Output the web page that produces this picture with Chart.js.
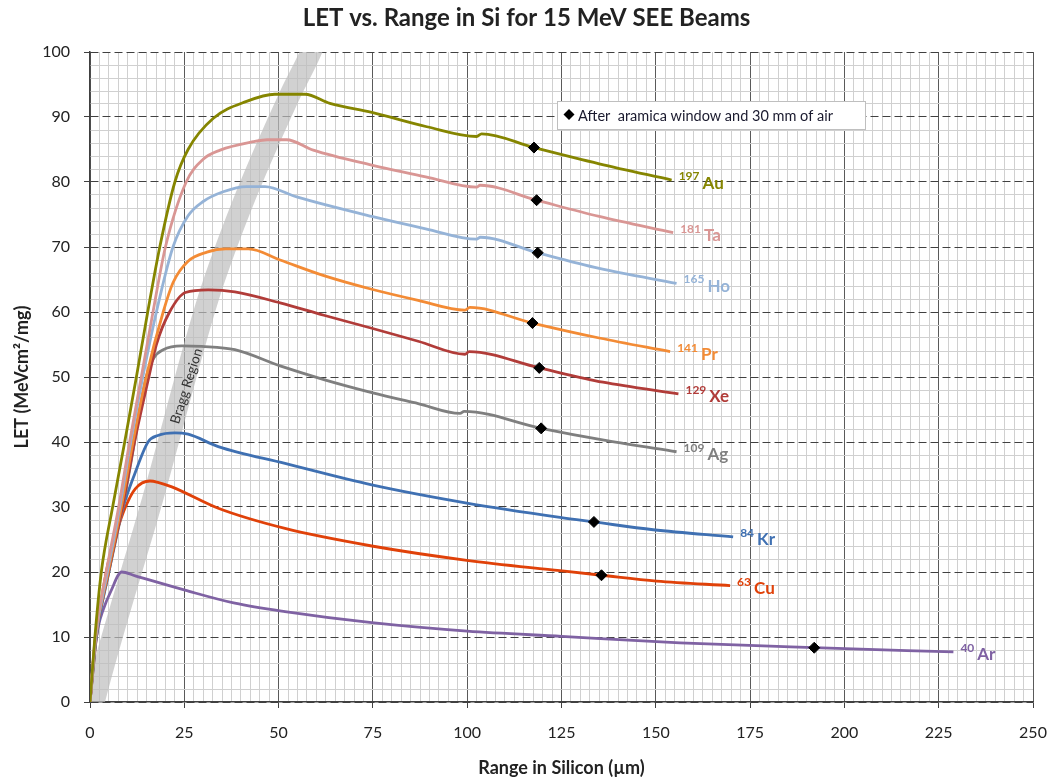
<!DOCTYPE html>
<html>
<head>
<meta charset="utf-8">
<title>LET vs. Range in Si for 15 MeV SEE Beams</title>
<script src="https://cdn.jsdelivr.net/npm/chart.js@4.4.1/dist/chart.umd.min.js"></script>
<style>
    html, body { margin: 0; padding: 0; background: #fff; }
    #wrap { width: 1052px; height: 783px; }
</style>
</head>
<body>
<div id="wrap"><canvas id="chart" width="1052" height="783"></canvas></div>
<script>
'use strict';

// ions, in the order of the curves from top to bottom
var ions = ['Au', 'Ta', 'Ho', 'Pr', 'Xe', 'Ag', 'Kr', 'Cu', 'Ar'];
var masses = ['197', '181', '165', '141', '129', '109', '84', '63', '40'];

// [range in Si (um), LET (MeV cm2/mg)]
var au = [[0, 0], [1.3, 10], [3, 20], [6, 30], [9.2, 40], [12.3, 50], [15.3, 60], [18.5, 70], [22.5, 80],
    [26, 85], [32.7, 89.8], [41.5, 92.4], [49, 93.5], [57, 93.5], [63.6, 92.1], [74.7, 90.7], [89.3, 88.5],
    [102.5, 87.0], [103.8, 87.4], [117.7, 85.3], [135, 82.8], [154.2, 80.3]];
var ta = [[0, 0], [1.4, 10], [4.3, 20], [7.6, 30], [10.5, 40], [13.6, 50], [16.7, 60], [20, 70], [25.5, 80],
    [30, 83.5], [34.5, 84.9], [43.3, 86.2], [47, 86.5], [52.1, 86.5], [59.2, 84.9], [74.7, 82.6], [89, 80.8],
    [102.5, 79.2], [103.4, 79.5], [118.4, 77.2], [135, 74.7], [154.6, 72.2]];
var ho = [[0, 0], [1.5, 10], [4.6, 20], [7.9, 30], [10.8, 40], [14, 50], [17.6, 60], [22, 70], [26, 74.8],
    [30, 77], [35.3, 78.5], [41.5, 79.3], [46.4, 79.3], [54.8, 77.7], [74.7, 74.7], [89, 72.8], [102.5, 71.2],
    [103.5, 71.5], [118.7, 69.1], [135, 66.7], [155.5, 64.4]];
var pr = [[0, 0], [1.5, 10], [4.8, 20], [8.3, 30], [11.4, 40], [14.9, 50], [19.4, 60], [22, 64.5], [26, 67.8],
    [31, 69.2], [36, 69.7], [42, 69.7], [50.4, 68.0], [62, 65.6], [74.7, 63.5], [87, 61.8], [99.4, 60.3],
    [100.7, 60.7], [117.3, 58.3], [135, 56], [153.8, 53.9]];
var xe = [[0, 0], [1.5, 10], [4.9, 20], [8.6, 30], [11.8, 40], [15.6, 50], [17.6, 55], [21.1, 60], [25.3, 63],
    [31.4, 63.4], [38.4, 63.1], [50.4, 61.4], [62, 59.5], [74.7, 57.5], [87, 55.5], [99.4, 53.5], [100.5, 53.9],
    [119.1, 51.4], [136, 49.2], [156, 47.4]];
var ag = [[0, 0], [1.6, 10], [5, 20], [8.7, 30], [11.8, 40], [13.2, 45], [14.9, 50], [17, 53], [19.4, 54.2],
    [24.3, 54.8], [29.6, 54.7], [38.4, 54.2], [50.4, 51.7], [62, 49.6], [74.7, 47.6], [87, 45.9], [98.1, 44.4],
    [99.2, 44.7], [119.6, 42.1], [137, 40.2], [155.5, 38.5]];
var kr = [[0, 0], [1.7, 10], [5, 20], [7.5, 27], [8.8, 30], [11.8, 35], [15.4, 40], [18, 41], [22.5, 41.4],
    [26, 41.2], [34, 39.3], [51.7, 36.7], [74.7, 33.4], [99.9, 30.6], [124.6, 28.4], [133.6, 27.7],
    [149.3, 26.5], [170.5, 25.4]];
var cu = [[0, 0], [1.7, 10], [4.3, 20], [7, 26], [9.4, 30], [12, 32.8], [15.9, 34], [18, 33.8], [21.7, 33.1],
    [34, 29.8], [51.7, 26.7], [74.7, 24], [99.9, 21.8], [124.6, 20.2], [135.6, 19.5], [150.2, 18.6],
    [169.7, 17.9]];
var ar = [[0, 0], [1, 7], [2.2, 11.6], [3.5, 14.2], [5.5, 17], [8.4, 20], [12, 19.4], [25.2, 17.2],
    [38.4, 15.2], [51.7, 13.9], [74.7, 12.2], [100, 10.9], [125, 10.1], [156.4, 9.1], [192, 8.35], [228.9, 7.7]];

// black diamonds: after aramica window and 30 mm of air
var afterWindow = [[117.7, 85.3], [118.4, 77.2], [118.7, 69.1], [117.3, 58.3], [119.1, 51.4], [119.6, 42.1],
    [133.6, 27.7], [135.6, 19.5], [192, 8.35]];

// centre line of the grey "Bragg Region" band
var braggRegion = [[0.3, -2], [1.1, 0], [16.6, 31.2], [31.3, 62], [40, 76], [53, 93.4], [58.6, 100], [61, 103.5]];

var series = [au, ta, ho, pr, xe, ag, kr, cu, ar];
var colors = ['#858500', '#d99694', '#95b3d7', '#f38b35', '#b13c39', '#7f7f7f', '#3f70b2', '#e04109', '#7f62a3'];

var FONT = 'Lato, Carlito, Calibri, "Noto Sans", sans-serif';
Chart.defaults.font.family = FONT;
Chart.defaults.color = '#222';

function isMultiple(v, step) {
    var r = Math.abs(v / step - Math.round(v / step));
    return r < 1e-6;
}

var curveLabels = {
    id: 'curveLabels',
    afterDatasetsDraw: function (chart) {
        var ctx = chart.ctx;
        var xs = chart.scales.x, ys = chart.scales.y;
        ctx.save();
        ctx.textBaseline = 'middle';
        ctx.textAlign = 'left';

        // ion names at the end of each curve
        ions.forEach(function (ion, i) {
            var pts = chart.getDatasetMeta(i).data;
            var last = pts[pts.length - 1];
            var x = last.x + 7;
            ctx.fillStyle = colors[i];
            ctx.font = 'bold 12px ' + FONT;
            ctx.fillText(masses[i], x, last.y - 4);
            x += ctx.measureText(masses[i]).width + 3;
            ctx.font = 'bold 17px ' + FONT;
            ctx.fillText(ion, x, last.y + 3);
        });

        // band label
        ctx.save();
        ctx.translate(xs.getPixelForValue(25.6), ys.getPixelForValue(48.6));
        ctx.rotate(-72.3 * Math.PI / 180);
        ctx.textAlign = 'center';
        ctx.fillStyle = '#333';
        ctx.font = '13.5px ' + FONT;
        ctx.fillText('Bragg Region', 0, 0);
        ctx.restore();

        // legend box for the diamonds
        var bx = chart.chartArea.left + 467, by = chart.chartArea.top + 49;
        ctx.fillStyle = '#fff';
        ctx.strokeStyle = '#bfbfbf';
        ctx.lineWidth = 1;
        ctx.fillRect(bx, by, 308, 28);
        ctx.strokeRect(bx + 0.5, by + 0.5, 308, 28);
        ctx.fillStyle = '#000';
        ctx.beginPath();
        ctx.moveTo(bx + 12, by + 8);
        ctx.lineTo(bx + 17.5, by + 13.5);
        ctx.lineTo(bx + 12, by + 19);
        ctx.lineTo(bx + 6.5, by + 13.5);
        ctx.closePath();
        ctx.fill();
        ctx.fillStyle = '#1a1a2e';
        ctx.font = '14.5px ' + FONT;
        ctx.fillText('After  aramica window and 30 mm of air', bx + 21, by + 15);
        ctx.restore();
    }
};

var datasets = series.map(function (pts, i) {
    return {
        label: ions[i],
        data: pts,
        showLine: true,
        borderColor: colors[i],
        borderWidth: 2.8,
        pointRadius: 0,
        cubicInterpolationMode: 'monotone',
        order: 2
    };
});

datasets.push({
    label: 'After aramica window and 30 mm of air',
    data: afterWindow,
    showLine: false,
    pointStyle: 'rectRot',
    pointRadius: 5.5,
    backgroundColor: '#000',
    borderColor: '#000',
    order: 1
});

datasets.push({
    label: 'Bragg Region',
    data: braggRegion,
    showLine: true,
    borderColor: 'rgba(190,190,190,0.7)',
    borderWidth: 21,
    pointRadius: 0,
    cubicInterpolationMode: 'monotone',
    clip: 0,
    order: 10
});

new Chart(document.getElementById('chart'), {
    type: 'scatter',
    data: { datasets: datasets },
    plugins: [curveLabels],
    options: {
        responsive: false,
        animation: false,
        layout: { padding: { left: 20, right: 19 } },
        plugins: {
            legend: { display: false },
            tooltip: { enabled: false },
            title: {
                display: true,
                text: 'LET vs. Range in Si for 15 MeV SEE Beams',
                font: { size: 24, weight: 'bold' },
                color: '#222',
                padding: { top: 4, bottom: 19.2 }
            }
        },
        scales: {
            x: {
                type: 'linear',
                min: 0,
                max: 250,
                ticks: { stepSize: 25, autoSkip: false, maxRotation: 0, padding: 15, font: { size: 16 }, color: '#222' },
                grid: { color: '#5a5a5a', lineWidth: 1, tickLength: 6, tickColor: '#404040' },
                border: { color: '#404040', width: 1.5 },
                title: {
                    display: true,
                    text: 'Range in Silicon (\u00b5m)',
                    font: { size: 18, weight: 'bold' },
                    color: '#222',
                    padding: { top: 0, bottom: 4 }
                },
                afterFit: function (s) {
                    s.height = 81;
                    s.paddingLeft = 0;
                    s.paddingRight = 0;
                }
            },
            xMinor: {
                type: 'linear',
                position: 'bottom',
                min: 0,
                max: 250,
                ticks: { display: false, stepSize: 2.5, maxTicksLimit: 200 },
                grid: {
                    drawTicks: false,
                    color: function (c) { return isMultiple(c.tick.value, 25) ? 'rgba(0,0,0,0)' : '#d0d0d0'; }
                },
                border: { display: false },
                afterFit: function (s) {
                    s.height = 0;
                    s.paddingLeft = 0;
                    s.paddingRight = 0;
                }
            },
            y: {
                type: 'linear',
                min: 0,
                max: 100,
                ticks: { stepSize: 10, autoSkip: false, padding: 14, font: { size: 16 }, color: '#222' },
                grid: { color: '#404040', lineWidth: 1, tickLength: 6, tickColor: '#404040' },
                border: { color: '#404040', width: 1.5, dash: [8, 4] },
                title: {
                    display: true,
                    text: 'LET (MeVcm\u00b2/mg)',
                    font: { size: 18, weight: 'bold' },
                    color: '#222',
                    padding: { top: -9, bottom: 0 }
                },
                afterFit: function (s) { s.width = 70; }
            },
            yMinor: {
                type: 'linear',
                position: 'left',
                min: 0,
                max: 100,
                ticks: { display: false, stepSize: 2, maxTicksLimit: 200 },
                grid: {
                    drawTicks: false,
                    color: function (c) { return isMultiple(c.tick.value, 10) ? 'rgba(0,0,0,0)' : '#d0d0d0'; }
                },
                border: { display: false },
                afterFit: function (s) { s.width = 0; }
            }
        }
    }
});
</script>
</body>
</html>
